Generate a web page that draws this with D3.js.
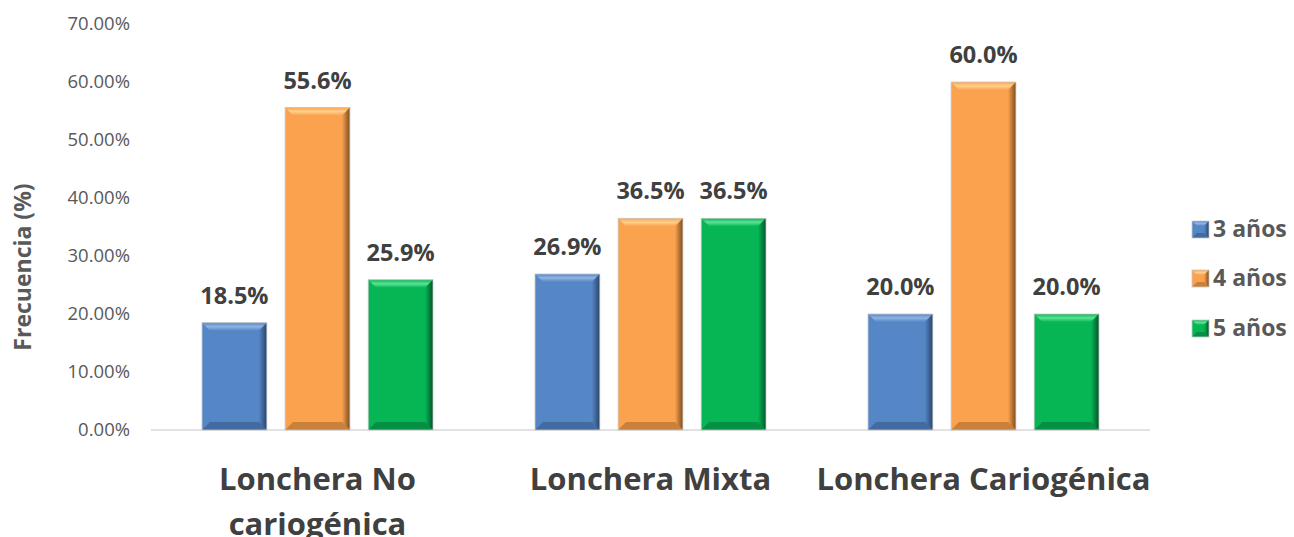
<!DOCTYPE html>
<html>
<head>
<meta charset="utf-8">
<script src="https://cdn.jsdelivr.net/npm/d3@7"></script>
<style>
  body { margin: 0; background: #fff; }
  svg { display: block; font-family: "Open Sans", "Noto Sans", sans-serif; }
</style>
</head>
<body>
<div class="chart"></div>
<script>
"use strict";
const categories = ["Lonchera No cariogénica", "Lonchera Mixta", "Lonchera Cariogénica"];
const categoryLines = [["Lonchera No", "cariogénica"], ["Lonchera Mixta"], ["Lonchera Cariogénica"]];
const seriesNames = ["3 años", "4 años", "5 años"];
const values3 = [18.5, 26.9, 20.0];
const values4 = [55.6, 36.5, 60.0];
const values5 = [25.9, 36.5, 20.0];
const yTicks = [0, 10, 20, 30, 40, 50, 60, 70];
const colors = ["#5586c6", "#fba24f", "#06b655"];
const darkColors = ["#2a4468", "#7c4d1e", "#02542a"];
const lightColors = ["#8fb4e3", "#ffd08c", "#5be394"];

const width = 1294, height = 537;
const svg = d3.select(".chart").append("svg")
    .attr("width", width).attr("height", height);

const y = d3.scaleLinear().domain([0, 70]).range([430, 24]);
const x0 = d3.scaleBand().domain(categories).range([151, 1150]);
const x1 = d3.scaleBand().domain(seriesNames).range([51, 282]).paddingInner(0.22);

// gradients for bevel shading
const defs = svg.append("defs");
colors.forEach((c, i) => {
    let g = defs.append("linearGradient").attr("id", "side" + i)
        .attr("x1", "0").attr("x2", "1").attr("y1", "0").attr("y2", "0");
    g.append("stop").attr("offset", "0").attr("stop-color", c);
    g.append("stop").attr("offset", "1").attr("stop-color", darkColors[i]);
    let t = defs.append("linearGradient").attr("id", "top" + i)
        .attr("x1", "0").attr("x2", "0").attr("y1", "0").attr("y2", "1");
    t.append("stop").attr("offset", "0").attr("stop-color", c);
    t.append("stop").attr("offset", "0.5").attr("stop-color", lightColors[i]);
    t.append("stop").attr("offset", "1").attr("stop-color", c);
});

// y tick labels
svg.append("g").selectAll("text")
    .data(yTicks).enter().append("text")
    .attr("x", 130).attr("y", d => y(d)).attr("dy", "0.35em")
    .attr("text-anchor", "end")
    .style("font-size", "18.5px").style("fill", "#595959")
    .text(d => d.toFixed(2) + "%");

// baseline
svg.append("line")
    .attr("x1", 151).attr("x2", 1150).attr("y1", y(0)).attr("y2", y(0))
    .style("stroke", "#d9d9d9").style("stroke-width", 1.5);

// axis title
svg.append("text")
    .attr("transform", "translate(31,267) rotate(-90)")
    .attr("text-anchor", "middle")
    .style("font-size", "23px").style("font-weight", "bold").style("fill", "#595959")
    .text("Frecuencia (%)");

const seriesValues = [values3, values4, values5];
const bars = [];
categories.forEach((c, ci) => {
    seriesNames.forEach((s, si) => {
        bars.push({cat: c, ser: s, si: si, value: seriesValues[si][ci]});
    });
});

function bevelBar(g, bx, by, bw, bh, si, b) {
    let x2 = bx + bw, y2 = by + bh;
    g.append("rect").attr("x", bx).attr("y", by).attr("width", bw).attr("height", bh)
        .style("fill", colors[si]);
    // top bevel
    g.append("polygon")
        .attr("points", [[bx, by], [x2, by], [x2 - b, by + b], [bx + b, by + b]].join(" "))
        .style("fill", "url(#top" + si + ")");
    // right bevel
    g.append("polygon")
        .attr("points", [[x2, by], [x2, y2], [x2 - b, y2 - b], [x2 - b, by + b]].join(" "))
        .style("fill", "url(#side" + si + ")");
    // bottom bevel
    g.append("polygon")
        .attr("points", [[bx, y2], [x2, y2], [x2 - b, y2 - b], [bx + b, y2 - b]].join(" "))
        .style("fill", darkColors[si]).style("opacity", 0.4);
    g.append("rect").attr("x", bx).attr("y", by).attr("width", bw).attr("height", bh)
        .style("fill", "none").style("stroke", "#c8c8c8").style("stroke-width", 0.8);
}

const barG = svg.append("g");
bars.forEach(d => {
    let bx = x0(d.cat) + x1(d.ser);
    let by = y(d.value);
    let g = barG.append("g");
    bevelBar(g, bx, by, x1.bandwidth(), y(0) - by, d.si, 8);
    g.append("text")
        .attr("x", bx + x1.bandwidth() / 2).attr("y", by - 19)
        .attr("text-anchor", "middle")
        .style("font-size", "23.5px").style("font-weight", "bold").style("fill", "#404040")
        .text(d.value.toFixed(1) + "%");
});

// category labels
categories.forEach((c, ci) => {
    let t = svg.append("text")
        .attr("x", x0(c) + x0.bandwidth() / 2).attr("y", 490)
        .attr("text-anchor", "middle")
        .style("font-size", "31px").style("font-weight", "bold").style("fill", "#404040");
    categoryLines[ci].forEach((line, li) => {
        t.append("tspan").attr("x", x0(c) + x0.bandwidth() / 2)
            .attr("dy", li === 0 ? 0 : 45).text(line);
    });
});

// legend
const legend = svg.append("g").attr("transform", "translate(1192,0)");
seriesNames.forEach((s, si) => {
    let ly = [229, 278, 328][si];
    let g = legend.append("g");
    bevelBar(g, 0, ly - 8, 17, 17, si, 5);
    g.append("text").attr("x", 21).attr("y", ly).attr("dy", "0.35em")
        .style("font-size", "23px").style("font-weight", "bold").style("fill", "#595959")
        .text(s);
});
</script>
</body>
</html>
